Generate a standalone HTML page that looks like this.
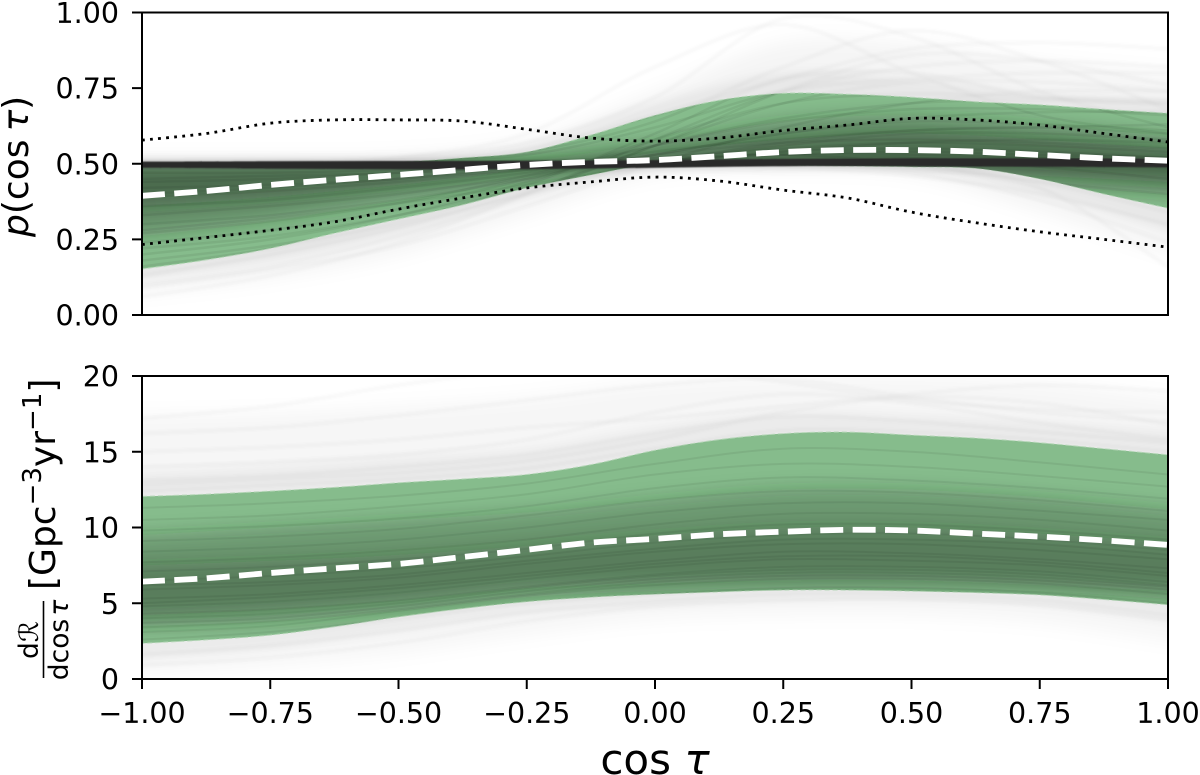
<!DOCTYPE html>
<html lang="en">
<head>
<meta charset="utf-8">
<title>Posterior of p(cos tau) and merger rate</title>
<style>
html,body{margin:0;padding:0;background:#fff;}
svg{display:block;}
text{font-family:"DejaVu Sans","Liberation Sans",sans-serif;fill:#000;}
</style>
</head>
<body>
<svg id="chart" xmlns="http://www.w3.org/2000/svg" width="1200" height="775" viewBox="0 0 1200 775">
  <defs>
    <filter id="blur-soft" filterUnits="userSpaceOnUse" x="0" y="0" width="1200" height="775"><feGaussianBlur stdDeviation="0 9"/></filter>
    <filter id="blur-fine" filterUnits="userSpaceOnUse" x="0" y="0" width="1200" height="775"><feGaussianBlur stdDeviation="0 5"/></filter>
    <filter id="blur-hair" filterUnits="userSpaceOnUse" x="0" y="0" width="1200" height="775"><feGaussianBlur stdDeviation="0 0.6"/></filter>
    <filter id="blur-trace" filterUnits="userSpaceOnUse" x="0" y="0" width="1200" height="775"><feGaussianBlur stdDeviation="1.2"/></filter>
    <clipPath id="clip-top"><rect x="142" y="12.5" width="1026" height="302.5"/></clipPath>
    <clipPath id="clip-bottom"><rect x="142" y="376" width="1026" height="303"/></clipPath>
    <clipPath id="clip-top-green"><path id="clip-top-green-path"/></clipPath>
    <clipPath id="clip-bottom-green"><path id="clip-bottom-green-path"/></clipPath>
  </defs>
  <rect x="0" y="0" width="1200" height="775" fill="#fff"/>
  <g id="top-panel"></g>
  <g id="bottom-panel"></g>
  <g id="axes"></g>

  <text transform="translate(28,237) rotate(-90)" font-size="36"><tspan font-style="italic">p</tspan><tspan>(cos</tspan><tspan dx="8" font-style="italic">τ</tspan><tspan>)</tspan></text>

  <g transform="translate(55,679) rotate(-90)">
    <text x="39" y="-17" font-size="26.5" text-anchor="middle">d<tspan font-style="italic">ℛ</tspan></text>
    <line x1="1" x2="78" y1="-11.5" y2="-11.5" stroke="#000" stroke-width="1.6"/>
    <text x="39" y="13" font-size="26.5" text-anchor="middle">dcos<tspan dx="3" font-style="italic">τ</tspan></text>
    <text x="89" y="0" font-size="36">[Gpc<tspan font-size="26" dy="-14">−3</tspan><tspan dy="14">yr</tspan><tspan font-size="26" dy="-14">−1</tspan><tspan dy="14">]</tspan></text>
  </g>

  <text x="655" y="774" font-size="42" text-anchor="middle">cos <tspan font-style="italic">τ</tspan></text>
</svg>

<script>
// x grids
const cosTau = [-1,-0.875,-0.75,-0.625,-0.5,-0.375,-0.25,-0.125,0,0.125,0.25,0.375,0.5,0.625,0.75,0.875,1];
const coarseCosTau = [-1,-0.75,-0.5,-0.25,0,0.25,0.5,0.75,1];

// tick labels
const xTicks = [-1,-0.75,-0.5,-0.25,0,0.25,0.5,0.75,1];
const xTickLabels = ['−1.00','−0.75','−0.50','−0.25','0.00','0.25','0.50','0.75','1.00'];
const topYTicks = [0,0.25,0.5,0.75,1];
const topYTickLabels = ['0.00','0.25','0.50','0.75','1.00'];
const bottomYTicks = [0,5,10,15,20];
const bottomYTickLabels = ['0','5','10','15','20'];

// top panel: p(cos tau)
const topGreenUpper = [.50,.50,.50,.50,.505,.519,.539,.595,.66,.71,.733,.73,.72,.705,.695,.68,.667];
const topGreenLower = [.152,.182,.22,.27,.317,.364,.42,.463,.50,.497,.495,.493,.49,.485,.45,.40,.353];
const topMedian = [.394,.41,.43,.447,.463,.48,.496,.506,.512,.525,.539,.545,.545,.54,.529,.518,.51];
const topDottedUpper = [.578,.60,.634,.645,.645,.641,.614,.585,.575,.585,.61,.628,.65,.645,.628,.60,.572];
const topDottedLower = [.233,.256,.28,.308,.35,.387,.42,.44,.456,.443,.413,.387,.34,.305,.275,.25,.224];
const topGrayHigh = [.525,.525,.53,.58,.74,.90,.90,.84,.80];
const topGrayLow = [.07,.12,.20,.33,.46,.48,.46,.34,.20];
const topGrayNearHigh = [.515,.515,.52,.56,.70,.80,.78,.73,.71];
const topGrayNearLow = [.12,.18,.27,.39,.485,.49,.48,.40,.28];
const topShadeWideHigh = [.5,.5,.5,.51,.57,.64,.66,.63,.59];
const topShadeWideLow = [.26,.31,.38,.44,.49,.49,.47,.43,.40];
const topShadeCoreHigh = [.5,.5,.5,.51,.54,.58,.60,.58,.55];
const topShadeCoreLow = [.36,.39,.43,.47,.49,.49,.48,.46,.44];
const topDenseHigh = [.507,.508,.509,.510,.512,.516,.518,.518,.517];
const topDenseLow = [.487,.484,.482,.482,.487,.492,.492,.490,.488];
const topTrace01 = [.06,.13,.24,.40,.58,.74,.82,.84,.82];
const topTrace02 = [.10,.16,.26,.40,.56,.70,.77,.77,.74];
const topTrace03 = [.13,.20,.29,.41,.56,.74,.86,.84,.76];
const topTrace04 = [.16,.22,.31,.43,.60,.78,.80,.72,.70];
const topTrace05 = [.20,.25,.33,.44,.58,.70,.73,.72,.71];
const topTrace06 = [.24,.28,.35,.45,.56,.65,.70,.71,.70];
const topTrace07 = [.27,.31,.37,.46,.56,.64,.68,.68,.66];
const topTrace08 = [.30,.33,.38,.45,.53,.60,.65,.67,.67];
const topTrace09 = [.33,.36,.40,.46,.53,.60,.64,.63,.61];
const topTrace10 = [.36,.38,.42,.47,.54,.58,.61,.62,.60];
const topTrace11 = [.39,.41,.44,.48,.53,.57,.58,.57,.55];
const topTrace12 = [.42,.43,.45,.49,.52,.55,.57,.56,.54];
const topTrace13 = [.45,.46,.47,.49,.51,.54,.55,.54,.52];
const topTrace14 = [.47,.47,.48,.49,.51,.53,.54,.53,.52];
const topTrace15 = [.50,.50,.50,.50,.50,.50,.49,.44,.34];
const topTrace16 = [.50,.50,.50,.50,.50,.50,.47,.38,.24];
const topTrace17 = [.50,.50,.50,.50,.50,.50,.48,.42,.16];
const topTrace18 = [.51,.51,.52,.57,.72,.98,.92,.74,.62];
const topTrace19 = [.50,.50,.52,.60,.82,.96,.80,.66,.60];
const topTrace20 = [.51,.51,.51,.55,.66,.78,.88,.90,.88];
const topTrace21 = [.50,.50,.51,.54,.64,.82,.94,.84,.68];
const topTrace22 = [.50,.50,.51,.53,.62,.74,.78,.80,.80];
const topTrace23 = [.44,.45,.47,.49,.51,.53,.50,.44,.40];
const topTrace24 = [.40,.42,.45,.48,.51,.52,.52,.49,.45];
const topTrace25 = [.22,.26,.33,.42,.50,.56,.60,.60,.58];
const topTrace26 = [.18,.23,.30,.40,.50,.57,.61,.62,.63];
const topTrace27 = [.28,.32,.37,.43,.50,.54,.57,.58,.57];
const topTrace28 = [.09,.15,.23,.36,.50,.62,.70,.74,.74];
const topTrace29 = [.50,.50,.50,.50,.50,.49,.46,.40,.30];
const topTrace30 = [.50,.50,.50,.51,.52,.53,.53,.52,.50];
const topTraces = [topTrace01,topTrace02,topTrace03,topTrace04,topTrace05,topTrace06,topTrace07,topTrace08,topTrace09,topTrace10,topTrace11,topTrace12,topTrace13,topTrace14,topTrace15,topTrace16,topTrace17,topTrace18,topTrace19,topTrace20,topTrace21,topTrace22,topTrace23,topTrace24,topTrace25,topTrace26,topTrace27,topTrace28,topTrace29,topTrace30];

// bottom panel: dR/dcos tau
const bottomGreenUpper = [12.05,12.2,12.4,12.65,12.95,13.2,13.5,14.15,15.1,15.8,16.2,16.3,16.1,15.9,15.6,15.2,14.8];
const bottomGreenLower = [2.35,2.58,2.9,3.45,4.1,4.65,5.1,5.4,5.6,5.75,5.87,5.87,5.8,5.7,5.55,5.25,4.9];
const bottomMedian = [6.43,6.65,7.0,7.3,7.6,8.05,8.53,9.0,9.25,9.55,9.72,9.85,9.8,9.6,9.4,9.15,8.85];
const bottomGrayHigh = [17.4,17.6,18,18.6,19.6,20,20,19.6,18.6];
const bottomGrayLow = [.3,.9,1.7,2.9,3.9,4.2,4.2,3.7,2.5];
const bottomGrayNearHigh = [13.6,14,14.6,15.2,16.6,17.6,17.4,17,16.4];
const bottomGrayNearLow = [1.3,2,3.2,4.3,4.9,5.2,5.2,4.9,3.9];
const bottomShadeWideHigh = [9.5,10,10.5,11,11.8,12.5,12.5,12,11.2];
const bottomShadeWideLow = [3.5,3.8,4.5,5.4,5.8,6,6,5.8,5.3];
const bottomShadeCoreHigh = [7.5,7.8,8.2,8.8,9.5,10,10,9.6,9];
const bottomShadeCoreLow = [4.2,4.6,5.2,6,6.3,6.5,6.5,6.2,5.8];
const bottomTrace01 = [.9,1.4,2.4,3.8,4.8,5.2,5.3,4.9,3.9];
const bottomTrace02 = [1.6,2.2,3.2,4.4,5.1,5.6,5.6,5.2,4.2];
const bottomTrace03 = [2.6,3.1,4.0,5.0,5.6,6.0,6.0,5.7,5.0];
const bottomTrace04 = [3.1,3.5,4.5,5.5,6.2,6.6,6.6,6.3,5.6];
const bottomTrace05 = [3.7,4.0,4.8,5.8,6.6,7.0,7.0,6.7,6.1];
const bottomTrace06 = [4.3,4.6,5.2,6.1,6.9,7.4,7.4,7.1,6.4];
const bottomTrace07 = [4.8,5.1,5.7,6.6,7.4,7.9,7.8,7.5,6.8];
const bottomTrace08 = [5.3,5.6,6.2,7.0,7.8,8.4,8.3,7.9,7.3];
const bottomTrace09 = [5.9,6.2,6.7,7.6,8.4,8.9,8.9,8.5,7.9];
const bottomTrace10 = [6.5,6.8,7.3,8.1,9.0,9.5,9.6,9.2,8.5];
const bottomTrace11 = [7.1,7.4,7.9,8.6,9.6,10.2,10.2,9.8,9.2];
const bottomTrace12 = [7.7,8.0,8.5,9.2,10.2,10.9,10.9,10.5,9.8];
const bottomTrace13 = [8.4,8.7,9.2,10.0,11.0,11.6,11.6,11.1,10.5];
const bottomTrace14 = [9.1,9.4,9.9,10.8,11.8,12.4,12.3,11.8,11.1];
const bottomTrace15 = [9.8,10.1,10.6,11.4,12.6,13.3,13.1,12.6,11.9];
const bottomTrace16 = [10.5,10.8,11.4,12.2,13.5,14.2,14.0,13.4,12.7];
const bottomTrace17 = [11.3,11.6,12.1,12.9,14.2,15.2,15.0,14.3,13.5];
const bottomTrace18 = [12.4,12.8,13.2,13.9,15.2,16.4,16.3,15.8,15.0];
const bottomTrace19 = [13.1,13.4,14.0,14.8,16.2,17.3,17.0,16.3,15.6];
const bottomTrace20 = [14.0,14.3,14.8,15.8,17.6,18.8,18.2,16.9,15.8];
const bottomTrace21 = [15.0,15.3,15.8,16.6,17.2,18.0,18.8,19.4,19.0];
const bottomTrace22 = [16.2,16.6,17.4,18.4,19.4,19.8,18.6,17.6,17.0];
const bottomTrace23 = [17.2,18.0,19.4,20.4,20.6,19.6,18.4,17.8,17.6];
const bottomTrace24 = [12.8,13.2,13.6,14.4,15.8,17.6,18.6,18.2,16.8];
const bottomTrace25 = [6.2,6.4,6.9,7.8,8.6,9.2,9.2,8.9,8.2];
const bottomTrace26 = [4.0,4.3,5.0,6.0,6.8,7.2,7.2,6.9,6.2];
const bottomTrace27 = [5.0,5.4,6.0,6.8,7.6,8.1,8.1,7.7,7.0];
const bottomTrace28 = [3.4,3.8,4.6,5.6,6.4,6.8,6.8,6.5,5.9];
const bottomTraces = [bottomTrace01,bottomTrace02,bottomTrace03,bottomTrace04,bottomTrace05,bottomTrace06,bottomTrace07,bottomTrace08,bottomTrace09,bottomTrace10,bottomTrace11,bottomTrace12,bottomTrace13,bottomTrace14,bottomTrace15,bottomTrace16,bottomTrace17,bottomTrace18,bottomTrace19,bottomTrace20,bottomTrace21,bottomTrace22,bottomTrace23,bottomTrace24,bottomTrace25,bottomTrace26,bottomTrace27,bottomTrace28];

const NS = 'http://www.w3.org/2000/svg';
const plotLeft = 142, plotRight = 1168;
const xScale = c => plotLeft + (c + 1) / 2 * (plotRight - plotLeft);
const topY = v => 315 - v * 302.5;
const bottomY = v => 679 - v / 20 * 303;

function points(xs, ys, yScale) {
  return xs.map((c, i) => [xScale(c), yScale(ys[i])]);
}
function curve(pts, move) {
  let d = (move ? 'M' : 'L') + pts[0][0].toFixed(1) + ' ' + pts[0][1].toFixed(1);
  for (let i = 0; i < pts.length - 1; i++) {
    const p0 = pts[Math.max(i - 1, 0)], p1 = pts[i], p2 = pts[i + 1], p3 = pts[Math.min(i + 2, pts.length - 1)];
    d += 'C' + (p1[0] + (p2[0] - p0[0]) / 6).toFixed(1) + ' ' + (p1[1] + (p2[1] - p0[1]) / 6).toFixed(1) + ' '
       + (p2[0] - (p3[0] - p1[0]) / 6).toFixed(1) + ' ' + (p2[1] - (p3[1] - p1[1]) / 6).toFixed(1) + ' '
       + p2[0].toFixed(1) + ' ' + p2[1].toFixed(1);
  }
  return d;
}
function bandPath(xs, hi, lo, yScale) {
  const top = points(xs, hi, yScale);
  const low = points(xs, lo, yScale).reverse();
  return curve(top, true) + curve(low, false) + 'Z';
}
function addPath(parent, d, attrs, name) {
  const el = document.createElementNS(NS, 'path');
  el.setAttribute('d', d);
  Object.keys(attrs).forEach(k => el.setAttribute(k, attrs[k]));
  
  
  parent.appendChild(el);
  return el;
}
function addGroup(parent, clip, name) {
  const g = document.createElementNS(NS, 'g');
  g.setAttribute('clip-path', 'url(#' + clip + ')');
  
  
  parent.appendChild(g);
  return g;
}

const GREEN = '#86bc8c';

// ---- top panel
(function () {
  const panel = addGroup(document.getElementById('top-panel'), 'clip-top', 'top-plot-area');
  addPath(panel, bandPath(coarseCosTau, topGrayHigh, topGrayLow, topY), {fill:'#000','fill-opacity':.04,filter:'url(#blur-soft)'}, 'top-gray-posterior-wide');
  addPath(panel, bandPath(coarseCosTau, topGrayNearHigh, topGrayNearLow, topY), {fill:'#000','fill-opacity':.055,filter:'url(#blur-fine)'}, 'top-gray-posterior-near');
  const outerTraces = addGroup(panel, 'clip-top', 'top-outer-traces');
  outerTraces.setAttribute('filter', 'url(#blur-trace)');
  topTraces.forEach(t => addPath(outerTraces, curve(points(coarseCosTau, t, topY), true), {fill:'none',stroke:'#000','stroke-opacity':.025,'stroke-width':4}, 'top-posterior-trace'));
  const green = bandPath(cosTau, topGreenUpper, topGreenLower, topY);
  document.getElementById('clip-top-green-path').setAttribute('d', green);
  addPath(panel, green, {fill:GREEN,stroke:'#b8d8ba','stroke-width':1,'stroke-dasharray':'5 3'}, 'top-credible-band');
  const inner = addGroup(panel, 'clip-top-green', 'top-band-shading');
  addPath(inner, bandPath(coarseCosTau, topShadeWideHigh, topShadeWideLow, topY), {fill:'#1d2a1e','fill-opacity':.3,filter:'url(#blur-soft)'}, 'top-band-shade-wide');
  addPath(inner, bandPath(coarseCosTau, topShadeCoreHigh, topShadeCoreLow, topY), {fill:'#1d2a1e','fill-opacity':.36,filter:'url(#blur-soft)'}, 'top-band-shade-core');
  topTraces.forEach(t => addPath(inner, curve(points(coarseCosTau, t, topY), true), {fill:'none',stroke:'#000','stroke-opacity':.06,'stroke-width':2.5}, 'top-posterior-trace-inside-band'));
  addPath(panel, bandPath(coarseCosTau, topDenseHigh, topDenseLow, topY), {fill:'#000','fill-opacity':.16,filter:'url(#blur-fine)'}, 'top-dense-halo');
  addPath(panel, bandPath(coarseCosTau, topDenseHigh, topDenseLow, topY), {fill:'#2b2b2b',filter:'url(#blur-hair)'}, 'top-dense-isotropic-traces');
  addPath(panel, curve(points(cosTau, topDottedUpper, topY), true), {fill:'none',stroke:'#000','stroke-width':2.8,'stroke-dasharray':'2.8 5.3'}, 'top-dotted-upper-line');
  addPath(panel, curve(points(cosTau, topDottedLower, topY), true), {fill:'none',stroke:'#000','stroke-width':2.8,'stroke-dasharray':'2.8 5.3'}, 'top-dotted-lower-line');
  addPath(panel, curve(points(cosTau, topMedian, topY), true), {fill:'none',stroke:'#fff','stroke-width':5.8,'stroke-dasharray':'23 9.4'}, 'top-median-line');
})();

// ---- bottom panel
(function () {
  const panel = addGroup(document.getElementById('bottom-panel'), 'clip-bottom', 'bottom-plot-area');
  addPath(panel, bandPath(coarseCosTau, bottomGrayHigh, bottomGrayLow, bottomY), {fill:'#000','fill-opacity':.035,filter:'url(#blur-soft)'}, 'bottom-gray-posterior-wide');
  addPath(panel, bandPath(coarseCosTau, bottomGrayNearHigh, bottomGrayNearLow, bottomY), {fill:'#000','fill-opacity':.045,filter:'url(#blur-fine)'}, 'bottom-gray-posterior-near');
  const outerTraces = addGroup(panel, 'clip-bottom', 'bottom-outer-traces');
  outerTraces.setAttribute('filter', 'url(#blur-trace)');
  bottomTraces.forEach(t => addPath(outerTraces, curve(points(coarseCosTau, t, bottomY), true), {fill:'none',stroke:'#000','stroke-opacity':.022,'stroke-width':4}, 'bottom-posterior-trace'));
  const green = bandPath(cosTau, bottomGreenUpper, bottomGreenLower, bottomY);
  document.getElementById('clip-bottom-green-path').setAttribute('d', green);
  addPath(panel, green, {fill:GREEN,stroke:'#b8d8ba','stroke-width':1,'stroke-dasharray':'5 3'}, 'bottom-credible-band');
  const inner = addGroup(panel, 'clip-bottom-green', 'bottom-band-shading');
  addPath(inner, bandPath(coarseCosTau, bottomShadeWideHigh, bottomShadeWideLow, bottomY), {fill:'#1d2a1e','fill-opacity':.26,filter:'url(#blur-soft)'}, 'bottom-band-shade-wide');
  addPath(inner, bandPath(coarseCosTau, bottomShadeCoreHigh, bottomShadeCoreLow, bottomY), {fill:'#1d2a1e','fill-opacity':.26,filter:'url(#blur-soft)'}, 'bottom-band-shade-core');
  bottomTraces.forEach(t => addPath(inner, curve(points(coarseCosTau, t, bottomY), true), {fill:'none',stroke:'#000','stroke-opacity':.06,'stroke-width':2}, 'bottom-posterior-trace-inside-band'));
  addPath(panel, curve(points(cosTau, bottomMedian, bottomY), true), {fill:'none',stroke:'#fff','stroke-width':5.8,'stroke-dasharray':'23 9.4'}, 'bottom-median-line');
})();

// ---- axes
(function () {
  const axes = document.getElementById('axes');
  function line(x1, y1, x2, y2, name) {
    const l = document.createElementNS(NS, 'line');
    l.setAttribute('x1', x1); l.setAttribute('y1', y1); l.setAttribute('x2', x2); l.setAttribute('y2', y2);
    l.setAttribute('stroke', '#000'); l.setAttribute('stroke-width', 2);
    
    
    axes.appendChild(l);
  }
  function label(x, y, str, anchor, name) {
    const t = document.createElementNS(NS, 'text');
    t.setAttribute('x', x); t.setAttribute('y', y);
    t.setAttribute('font-size', 28.5);
    t.setAttribute('text-anchor', anchor);
    t.textContent = str;
    
    
    axes.appendChild(t);
  }
  function frame(y0, y1, name) {
    const r = document.createElementNS(NS, 'rect');
    r.setAttribute('x', plotLeft); r.setAttribute('y', y0);
    r.setAttribute('width', plotRight - plotLeft); r.setAttribute('height', y1 - y0);
    r.setAttribute('fill', 'none'); r.setAttribute('stroke', '#000'); r.setAttribute('stroke-width', 2);
    
    
    axes.appendChild(r);
  }
  frame(12.5, 315, 'top-axes-frame');
  frame(376, 679, 'bottom-axes-frame');
  topYTicks.forEach((v, i) => {
    line(132, topY(v), plotLeft, topY(v), 'top-y-tick');
    label(119, topY(v) + 10.5, topYTickLabels[i], 'end', 'top-y-tick-label');
  });
  bottomYTicks.forEach((v, i) => {
    line(132, bottomY(v), plotLeft, bottomY(v), 'bottom-y-tick');
    label(119, bottomY(v) + 10.5, bottomYTickLabels[i], 'end', 'bottom-y-tick-label');
  });
  xTicks.forEach((v, i) => {
    line(xScale(v), 679, xScale(v), 689, 'x-tick');
    label(xScale(v), 723, xTickLabels[i], 'middle', 'x-tick-label');
  });
})();
</script>
</body>
</html>
